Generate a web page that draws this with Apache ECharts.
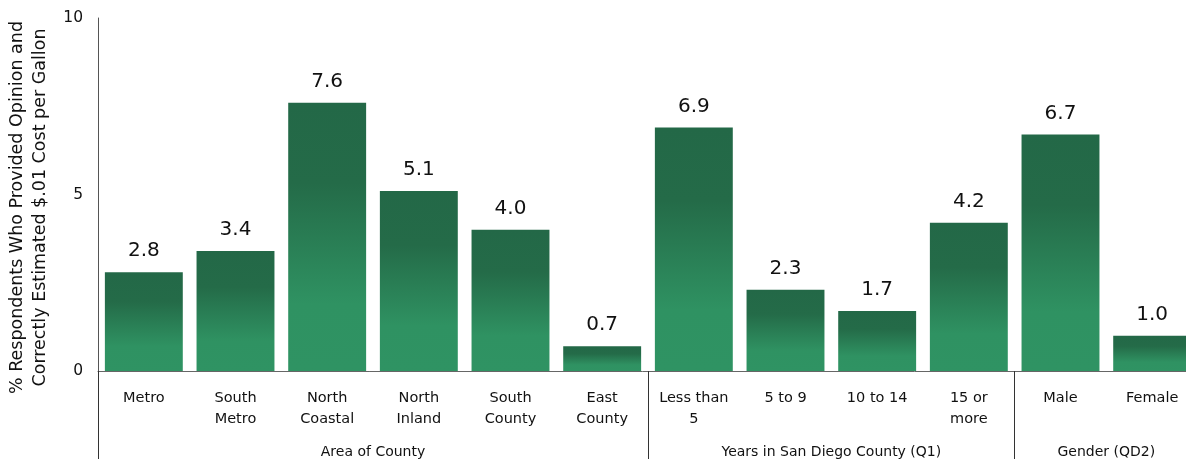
<!DOCTYPE html>
<html><head><meta charset="utf-8">
<script src="https://cdn.jsdelivr.net/npm/echarts@6/dist/echarts.min.js"></script>
<style>html,body{margin:0;padding:0;background:#fff}#c{width:1186px;height:459px}</style>
</head><body><div id="c"></div>
<script>
var categories = ["Metro","South\nMetro","North\nCoastal","North\nInland","South\nCounty","East\nCounty","Less than\n5","5 to 9","10 to 14","15 or\nmore","Male","Female"];
var values = [2.8,3.4,7.6,5.1,4.0,0.7,6.9,2.3,1.7,4.2,6.7,1.0];
var groupNames = ["Area of County","Years in San Diego County (Q1)","Gender (QD2)"];
var groupCenters = [3,8,11];
var groupBounds = [0,6,10];
var yTicks = [0,5,10];
var FONT = "DejaVu Sans";
var chart = echarts.init(document.getElementById('c'), null, {renderer:'canvas'});
chart.setOption({
  animation:false,
  grid:{left:98, top:18, width:1100, height:353, containLabel:false, outerBoundsMode:'none'},
  xAxis:[{
    type:'category', data:categories, position:'bottom',
    axisLine:{lineStyle:{color:'#666',width:1}},
    axisTick:{show:false},
    axisLabel:{interval:0, margin:17, fontFamily:FONT, fontSize:14.5, color:'#111', lineHeight:21}
  },{
    type:'value', min:0, max:12, position:'bottom', gridIndex:0,
    axisLine:{show:false}, splitLine:{show:false},
    axisTick:{show:true, customValues:groupBounds, length:90, lineStyle:{color:'#333',width:1}},
    axisLabel:{customValues:groupCenters, margin:74, fontFamily:FONT, fontSize:14, color:'#111',
      formatter:function(v){ return groupNames[groupCenters.indexOf(v)] || ''; }}
  }],
  yAxis:{
    type:'value', min:0, max:10, interval:5,
    axisLine:{show:true, lineStyle:{color:'#555',width:1}},
    axisTick:{show:false}, splitLine:{show:false},
    axisLabel:{margin:15, fontFamily:FONT, fontSize:15.5, color:'#111',
      formatter:function(v){ return yTicks.indexOf(v) >= 0 ? String(v) : ''; }},
    name:'% Respondents Who Provided Opinion and\nCorrectly Estimated $.01 Cost per Gallon',
    nameLocation:'middle', nameGap:45, nameRotate:90,
    nameTextStyle:{fontFamily:FONT, fontSize:17.5, color:'#111', lineHeight:23, padding:[0,26,0,0]}
  },
  series:[{
    type:'bar', data:values, xAxisIndex:0, barWidth:'85%',
    itemStyle:{color:new echarts.graphic.LinearGradient(0,0,0,1,[
      {offset:0,color:'#236847'},{offset:0.3,color:'#246b48'},{offset:0.75,color:'#2f9262'},{offset:1,color:'#2f9363'}])},
    label:{show:true, position:'top', distance:11, fontFamily:FONT, fontSize:20, color:'#111',
      formatter:function(p){return p.value.toFixed(1);}}
  }]
});
</script></body></html>
